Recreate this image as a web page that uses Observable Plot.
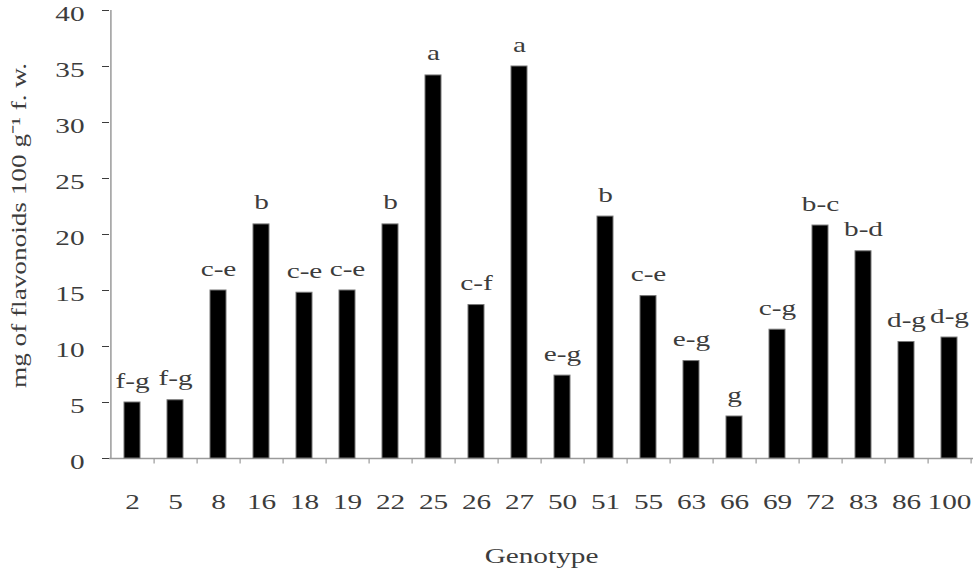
<!DOCTYPE html>
<html><head><meta charset="utf-8">
<script src="https://cdn.jsdelivr.net/npm/d3@7"></script>
<script src="https://cdn.jsdelivr.net/npm/@observablehq/plot@0.6"></script>
<style>
body{margin:0;background:#fff}
#chart svg text{font-family:"Liberation Serif","Times New Roman",serif;}
</style>
</head><body><div id="chart"></div>
<script>
const genotypes = ["2","5","8","16","18","19","22","25","26","27","50","51","55","63","66","69","72","83","86","100"];
const flavonoids = [5.0,5.2,15.0,20.9,14.8,15.0,20.9,34.2,13.7,35.0,7.4,21.6,14.5,8.7,3.75,11.5,20.8,18.5,10.4,10.8];
const letters = ["f-g","f-g","c-e","b","c-e","c-e","b","a","c-f","a","e-g","b","c-e","e-g","g","c-g","b-c","b-d","d-g","d-g"];
const yTicks = [0,5,10,15,20,25,30,35,40];
const xTitle = "Genotype";
const yTitle = "mg of flavonoids 100 g\u207B\u00B9 f. w.";

const data = genotypes.map((g,i)=>({g, v: flavonoids[i], l: letters[i]}));
const W = 973, H = 573, mL = 109, mR = 0, mT = 10, mB = 115;
const step = (W - mL - mR) / genotypes.length;
const gray = "#9a9a9a";
const txt = "#3c3c3c";
const fs = 22;

const chart = Plot.plot({
  width: W, height: H,
  marginLeft: mL, marginRight: mR, marginTop: mT, marginBottom: mB,
  style: {fontFamily: "Liberation Serif, serif", fontSize: fs + "px", color: txt, background: "#fff"},
  x: {domain: genotypes, paddingInner: 0.62, paddingOuter: 0.31, label: null, tickSize: 0, tickPadding: 35},
  y: {domain: [0, 40], ticks: yTicks, tickSize: 7, tickPadding: 18, label: null, tickFormat: d => String(d)},
  marks: [
    Plot.ruleX([0], {x: () => genotypes[0], dx: -step/2, y1: 0, y2: 40, stroke: gray, strokeWidth: 1.5}),
    Plot.ruleY([0], {stroke: gray, strokeWidth: 1.5}),
    Plot.ruleX(genotypes, {x: d => d, dx: step/2, y1: 0, y2: -0.5, stroke: gray, strokeWidth: 1.2}),
    Plot.barY(data, {x: "g", y: "v", fill: "#000", stroke: "#777", strokeWidth: 1}),
    Plot.text(data, {x: "g", y: "v", text: "l", dy: -15, lineAnchor: "bottom", fill: txt, fontSize: fs}),
    Plot.text([xTitle], {frameAnchor: "bottom", dy: 104, fill: txt, fontSize: fs}),
    Plot.text([yTitle], {frameAnchor: "left", textAnchor: "middle", dx: -91, dy: -9, rotate: -90, fill: txt, fontSize: fs})
  ]
});
document.getElementById("chart").appendChild(chart);

// the reference's lettering is drawn wide: stretch glyph advances to match
d3.select(chart).selectAll("text").each(function() {
  const len = this.getComputedTextLength();
  if (!len) return;
  const isY = this.textContent === yTitle;
  this.setAttribute("lengthAdjust", "spacingAndGlyphs");
  this.setAttribute("textLength", isY ? 325 : len * 1.33);
});
// nudge y tick labels down slightly so "40" is not clipped at the top
const yl = chart.querySelector('g[aria-label="y-axis tick label"]');
if (yl) yl.setAttribute("transform", ((yl.getAttribute("transform") || "") + " translate(0,3)").trim());
</script>
</body></html>
